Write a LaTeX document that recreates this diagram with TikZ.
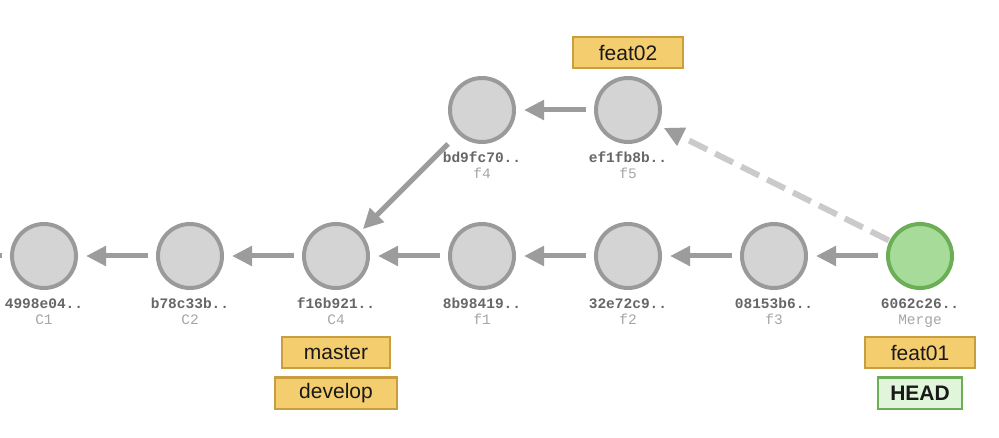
\documentclass[tikz,border=0pt]{standalone}
\usepackage{fontspec}
\setmainfont{Liberation Sans}
\newfontfamily\hashfont{Liberation Mono}
\usetikzlibrary{arrows.meta}
\definecolor{cfill}{HTML}{D4D4D4}
\definecolor{cline}{HTML}{9A9A9A}
\definecolor{gfill}{HTML}{A6DB9A}
\definecolor{gline}{HTML}{6BAE55}
\definecolor{bfill}{HTML}{F4CD6E}
\definecolor{bline}{HTML}{C89E3E}
\definecolor{hfill}{HTML}{E0F5D9}
\definecolor{arr}{HTML}{9C9C9C}
\definecolor{dash}{HTML}{CACACA}
\tikzset{
  commit/.style={circle, draw=cline, fill=cfill, line width=4pt, minimum size=64pt, inner sep=0pt},
  mergec/.style={commit, draw=gline, fill=gfill},
  hashlbl/.style={font=\hashfont\bfseries\fontsize{14.5}{16}\selectfont, text=black!60, inner sep=0pt},
  sublbl/.style={font=\hashfont\fontsize{14.5}{16}\selectfont, text=black!35, inner sep=0pt},
  branch/.style={draw=bline, fill=bfill, line width=2pt, font=\fontsize{21}{24}\selectfont, text=black!90, minimum height=31pt, inner sep=0pt},
  headbox/.style={draw=gline, fill=hfill, line width=2pt, font=\bfseries\fontsize{21}{24}\selectfont, text=black!90, minimum height=31pt, inner sep=0pt},
  parent/.style={draw=arr, line width=5pt, -{Triangle[length=20pt,width=19pt]}, shorten >=8pt, shorten <=8pt},
  mergep/.style={draw=dash, line width=6pt, dash pattern=on 20pt off 9pt, -{Triangle[length=20pt,width=19pt,color=arr,fill=arr]}, shorten >=6pt, shorten <=1pt},
}
\begin{document}
\begin{tikzpicture}[x=1pt,y=-1pt]
\useasboundingbox[fill=white] (0,0) rectangle (999,438);
% commits
\node[commit] (c1) at (44,256) {};
\node[commit] (c2) at (190,256) {};
\node[commit] (c4) at (336,256) {};
\node[commit] (f1) at (482,256) {};
\node[commit] (f2) at (628,256) {};
\node[commit] (f3) at (774,256) {};
\node[mergec] (m) at (920,256) {};
\node[commit] (f4) at (482,110) {};
\node[commit] (f5) at (628,110) {};
\coordinate (off) at (-30,256);
% labels
\foreach \n/\h/\s in {c1/4998e04../C1, c2/b78c33b../C2, c4/f16b921../C4, f1/8b98419../f1, f2/32e72c9../f2, f3/08153b6../f3, m/6062c26../Merge, f4/bd9fc70../f4, f5/ef1fb8b../f5}{
  \node[hashlbl, anchor=base] (\n h) at ([yshift=-53pt]\n.center) {\h};
  \node[sublbl, anchor=base] (\n s) at ([yshift=-69pt]\n.center) {\s};
}
% connectors
\draw[draw=arr, line width=5pt, shorten <=8pt] (c1) -- (off);
\draw[parent] (c2) -- (c1);
\draw[parent] (c4) -- (c2);
\draw[parent] (f1) -- (c4);
\draw[parent] (f2) -- (f1);
\draw[parent] (f3) -- (f2);
\draw[parent] (m) -- (f3);
\draw[parent] (f5) -- (f4);
\draw[parent, shorten <=14pt, shorten >=4pt] (f4) -- (c4);
\draw[mergep] (m) -- (f5);
% branch labels
\node[branch, minimum width=110pt] (b02) at (628,53) {feat02};
\node[branch, minimum width=108pt] (bmaster) at (336,353) {master};
\node[branch, minimum width=122pt] (bdev) at (336,393) {develop};
\node[branch, minimum width=110pt] (b01) at (920,353) {feat01};
\node[headbox, minimum width=84pt] (head) at (920,393) {HEAD};
\end{tikzpicture}
\end{document}
